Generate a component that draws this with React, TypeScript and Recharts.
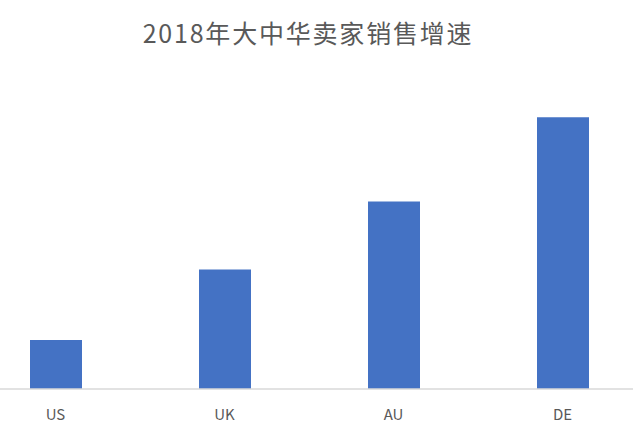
import React from 'react';
import { BarChart, Bar, XAxis, YAxis } from 'recharts';

// markets and their 2018 growth (relative)
const markets = ['US', 'UK', 'AU', 'DE'];
const growth = [18, 44, 69, 100];

const data = markets.map((m, i) => ({ market: m, growth: growth[i] }));

const App: React.FC = () => {
  return (
    <div style={styles.frame}>
      <div style={styles.title}>2018年大中华卖家销售增速</div>
      <div style={styles.chartWrap}>
        <BarChart
          width={676}
          height={428}
          data={data}
          margin={{ top: 90, right: 0, left: 0, bottom: 0 }}
        >
          <XAxis
            dataKey="market"
            height={39}
            tickLine={false}
            tickMargin={14}
            axisLine={{ stroke: '#d9d9d9', strokeWidth: 1.5 }}
            tick={{ fill: '#595959', fontSize: 15, fontFamily: '"Noto Sans CJK SC", "Noto Sans", sans-serif' }}
          />
          <YAxis hide domain={[0, 110]} />
          <Bar dataKey="growth" fill="#4472c4" barSize={52} isAnimationActive={false} />
        </BarChart>
      </div>
    </div>
  );
};

const styles = {
  frame: {
    position: 'absolute' as const,
    left: 0,
    top: 0,
    width: 633,
    height: 428,
    overflow: 'hidden',
    background: '#ffffff'
  },
  title: {
    position: 'absolute' as const,
    left: 0,
    top: 17,
    width: 616,
    textAlign: 'center' as const,
    fontSize: 25,
    letterSpacing: 1.8,
    color: '#595959',
    fontFamily: '"Noto Sans CJK SC", "Noto Sans", sans-serif',
    lineHeight: '30px'
  },
  chartWrap: {
    position: 'absolute' as const,
    left: -29.5,
    top: 0
  }
};

export default App;
